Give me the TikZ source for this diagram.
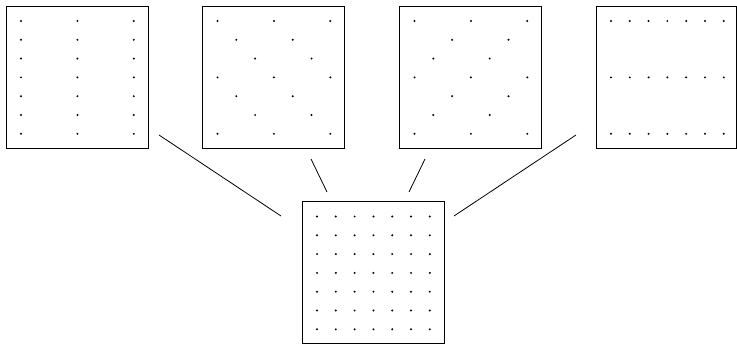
\documentclass[tikz,border=0pt]{standalone}
\begin{document}
\begin{tikzpicture}[x=1pt,y=-1pt,
  box/.style={draw,line width=0.9pt,minimum width=142pt,minimum height=142pt,inner sep=0pt,outer sep=0pt},
  link/.style={draw,line width=0.8pt},
  pt/.style={fill=black}]
\useasboundingbox (0,0) rectangle (737,345);
\def\sp{18.8}
\def\mg{15}
\newcommand{\dotat}[3]{\fill (#1.north west) ++(\mg+#2*\sp,\mg+#3*\sp) circle[radius=1.1pt];}
% boxes
\node[box] (b1) at (77,77) {};
\node[box] (b2) at (273.5,77) {};
\node[box] (b3) at (470.5,77) {};
\node[box,minimum width=140.5pt] (b4) at (666.2,77) {};
\node[box] (b5) at (373,272.5) {};
% box 1: three columns
\foreach \j in {0,...,6} \foreach \i in {0,3,6} { \dotat{b1}{\i}{\j} }
% box 2: shifted lattice
\foreach \j in {0,...,6} \foreach \k in {0,1,2} {
  \pgfmathtruncatemacro\ii{mod(\j,3)+3*\k}
  \ifnum\ii<7 \dotat{b2}{\ii}{\j}\fi }
% box 3: opposite shifted lattice
\foreach \j in {0,...,6} \foreach \k in {0,1,2} {
  \pgfmathtruncatemacro\ii{mod(3-mod(\j,3),3)+3*\k}
  \ifnum\ii<7 \dotat{b3}{\ii}{\j}\fi }
% box 4: three rows
\foreach \j in {0,3,6} \foreach \i in {0,...,6} { \dotat{b4}{\i}{\j} }
% box 5: full grid
\foreach \j in {0,...,6} \foreach \i in {0,...,6} { \dotat{b5}{\i}{\j} }
% connector ends
\coordinate (l1a) at (159,135); \coordinate (l1b) at (281,216);
\coordinate (l2a) at (311,159); \coordinate (l2b) at (327,192);
\coordinate (l3a) at (425,159); \coordinate (l3b) at (409,192);
\coordinate (l4a) at (576,135); \coordinate (l4b) at (454,216);
\draw[link] (l1a) -- (l1b);
\draw[link] (l2a) -- (l2b);
\draw[link] (l3a) -- (l3b);
\draw[link] (l4a) -- (l4b);
\end{tikzpicture}
\end{document}
